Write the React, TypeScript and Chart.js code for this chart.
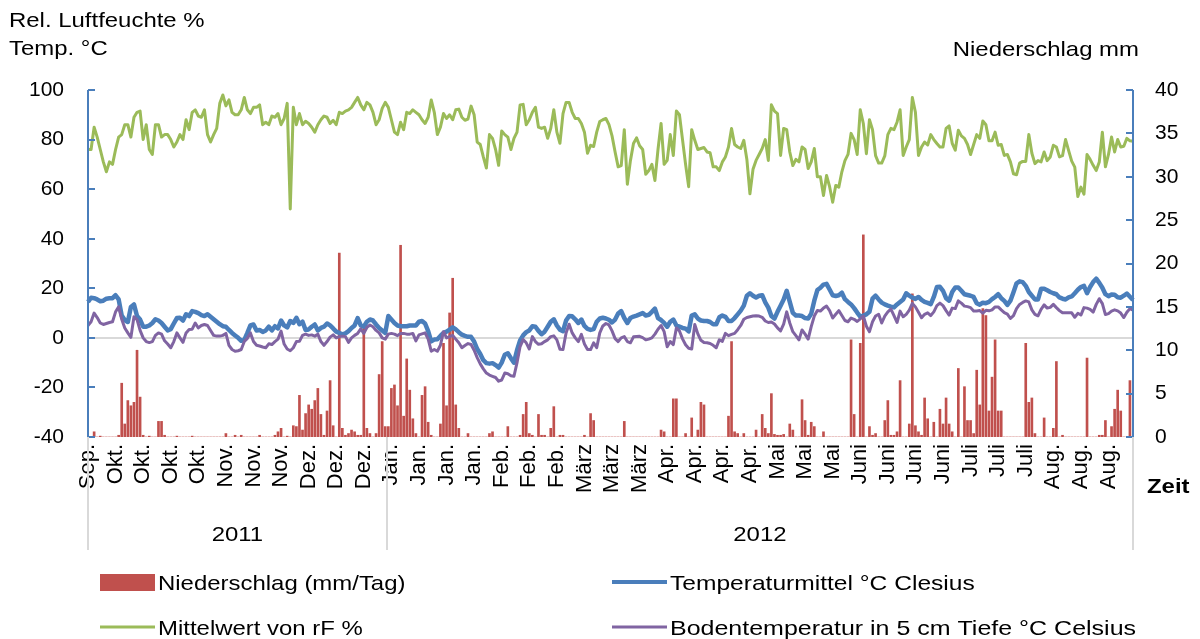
import React, { useEffect, useRef } from 'react';
import { Chart, registerables } from 'chart.js';

Chart.register(...registerables);

// Tick labels: one label every 9 days, starting 25 Sep 2011
const tickMonths = [
  'Sep.', 'Okt.', 'Okt.', 'Okt.', 'Okt.', 'Nov.', 'Nov.', 'Nov.', 'Dez.', 'Dez.', 'Dez.',
  'Jan.', 'Jan.', 'Jan.', 'Jan.', 'Feb.', 'Feb.', 'Feb.', 'März', 'März', 'März',
  'Apr.', 'Apr.', 'Apr.', 'Apr.', 'Mai', 'Mai', 'Mai', 'Juni', 'Juni', 'Juni', 'Juni',
  'Juli', 'Juli', 'Juli', 'Aug.', 'Aug.', 'Aug.',
];
const tickEvery = 9;

// Year groups (index of the first day of each year)
const yearLabels = ['2011', '2012'];
const yearStarts = [0, 98];

// Mittelwert von rF %
const rF = [
  76, 76, 85, 81, 76, 71, 67, 71, 70, 76,
  81, 82, 86, 86, 81, 89, 91, 91.5, 80, 86,
  76, 74, 86, 86, 81, 82, 82, 80, 77, 79,
  82, 80, 88, 84, 91, 92, 89.5, 89, 92, 82,
  79, 82, 84.5, 94.6, 98, 93.6, 96, 91, 90, 90,
  92, 97, 92, 90.5, 93, 93, 94, 86, 87, 86,
  89.5, 89, 90.5, 86, 88.5, 94.6, 52, 93, 86, 90.5,
  86, 87.4, 86.5, 85, 83, 86, 88, 89.5, 89, 86.5,
  87.8, 86, 91, 90.5, 91.5, 92, 93, 95, 97, 94,
  92, 95, 94, 91, 86, 88, 92.6, 95, 93, 88,
  83, 82, 87, 84, 91, 90.5, 92, 91, 90, 88,
  86.5, 89, 96, 91, 82, 85, 90.5, 88.5, 90, 88,
  92, 92.3, 89, 87.8, 88.3, 93.5, 90, 79, 78, 73,
  68.5, 82, 80.5, 76, 69.6, 83.5, 82, 81, 76, 80.5,
  83, 94, 94.2, 86, 88, 91, 93, 85, 84.5, 85,
  80.5, 84.5, 92, 83, 78.5, 90.5, 95, 95, 91, 88.5,
  88.5, 86.5, 83, 74.5, 77.7, 77.2, 83, 87.3, 88, 88.5,
  86, 81.5, 75, 69, 69.5, 84, 62, 71.5, 78.4, 80.7,
  77.5, 76, 66, 67.5, 70, 63.5, 76, 86.5, 70, 71.6,
  82, 73.6, 91.5, 90, 80, 70, 61, 84, 79.7, 76,
  76.4, 76.8, 75, 74.7, 69, 69, 67.5, 71, 73, 77,
  84.5, 78, 77, 76.4, 79.7, 72, 58.1, 68, 71.6, 74,
  76.4, 80, 71.6, 94, 91.5, 90.5, 73.6, 84.5, 84, 75,
  69.5, 72, 71, 77, 76, 68.3, 71, 76.4, 65, 65,
  57.4, 65.5, 61, 54.7, 61.5, 60.8, 67, 71.5, 74, 82.5,
  80, 74, 92, 86.5, 74.3, 88, 84, 73.5, 70.5, 70.5,
  73.4, 82, 84.5, 84, 87, 92, 73.6, 77, 80, 97,
  91, 73.6, 77, 79, 77.8, 82, 80, 78.4, 77, 77,
  84.5, 85.5, 78.5, 75.7, 83.8, 81.5, 80.5, 78, 74, 78,
  82, 80.5, 87.5, 86, 79.5, 79.5, 83, 77.7, 78, 73.6,
  74, 71, 66.2, 65.8, 70.5, 71.2, 71.2, 82, 74.5, 70.3,
  71.5, 71, 75, 71.5, 73, 77.7, 77, 73, 73.5, 80,
  75.5, 71.3, 68.9, 57, 60.8, 58, 74, 72, 69.6, 67.5,
  71, 83, 69, 74, 81, 75, 80, 77, 77.3, 80.5, 79.5, 79.3,
];

// Temperaturmittel °C
const tempMean = [
  14.5, 16.2, 16, 15.5, 14.8, 15, 15.8, 16, 16, 17.2,
  15.5, 9, 7.2, 6.4, 12.5, 13.5, 8.8, 7.4, 4.5, 4.5,
  5, 6, 7.5, 7, 6, 4.5, 3, 3.5, 5.8, 8,
  8.1, 7, 9.5, 8.8, 10.8, 10.5, 10, 9.2, 8.8, 9.5,
  8.5, 7.5, 6.5, 5.5, 4.7, 4.5, 3.2, 2, 1, 0,
  -1.2, -0.8, 2, 5, 5.4, 3, 3.2, 2.4, 3, 4.5,
  3, 4.7, 3.8, 7, 5, 4.2, 6.8, 6, 8.1, 5.5,
  6.5, 3.2, 3.4, 4.5, 5.4, 3, 4, 4.5, 5.8, 5,
  3.8, 2.5, 2, 1.4, 1.8, 2.7, 4, 5, 8, 5,
  4.5, 6.5, 7.4, 7, 5.4, 4, 3, 2, 8.8, 7.4,
  6, 5, 4.7, 4.7, 4.7, 5, 5, 5, 6.5, 6.8,
  5.8, 2.7, -1.4, -0.7, -0.6, 0.8, 2, 2.5, 3.3, 4.3,
  3.4, 2.3, 1.3, 0.8, 0.4, 0.4, -1.5, -4.5, -6.5, -9,
  -10.2, -10.4, -10.2, -11, -12, -10, -6.8, -6.2, -8.2, -10,
  -5, -1, 1, 2.3, 3, 4.7, 4.5, 2.8, 1.5, 2.5,
  4.5, 6.5, 7.5, 5, 3.3, 2.7, 7, 8.8, 8.7, 7.5,
  6, 7.4, 4.8, 3.6, 3.2, 3.5, 6.5, 7.8, 8.1, 7.8,
  7.3, 6.2, 7.4, 9.8, 10.8, 8, 6, 8, 8.6, 9,
  9.5, 10, 9, 9.3, 10.5, 11.8, 8, 7.2, 6, 4.5,
  6.5, 7.4, 5, 4.5, 4, 3.7, 2.6, 9, 9.5, 7.8,
  7, 6.8, 6.8, 6.4, 5.5, 5.5, 8.3, 9, 8.5, 6.8,
  6.8, 8, 9.5, 11, 13, 17, 18, 17, 16.3, 17,
  17.2, 14.3, 12.2, 8.8, 7.8, 10.5, 13, 15.5, 19, 14.5,
  10.1, 9, 9, 8.8, 8, 7.8, 9.7, 15, 19.3, 20.2,
  21.5, 21.8, 19.5, 17.2, 16.9, 17.2, 18.2, 15.6, 14.5, 13.5,
  12, 10.2, 8.6, 9, 9.5, 10.5, 15.8, 17, 15.5, 14.2,
  13.5, 13, 12.6, 12.3, 13.5, 14.5, 15.5, 18, 17, 16.2,
  15.7, 16.5, 15.3, 14.5, 14.1, 13.6, 16.5, 20.5, 20.6, 19,
  16, 15, 18.5, 20.3, 20.3, 19, 17.6, 17.3, 17, 16.5,
  14, 13.4, 14.2, 14, 14.5, 15.6, 16.5, 17.6, 16, 14.9,
  13.3, 15, 18.4, 22, 22.8, 22.5, 21, 18.5, 17, 15.5,
  15.5, 19.8, 19.8, 19.2, 18.5, 18, 17.6, 16.3, 15.8, 15.5,
  16.3, 16.7, 18, 19.4, 20.5, 21, 18, 20.5, 22.5, 23.9,
  22.2, 20.2, 17.6, 16.8, 17.5, 17.4, 16.4, 16.2, 17, 17.9, 16.6, 15.3,
];

// Bodentemperatur in 5 cm Tiefe °C
const soilTemp = [
  5, 6.5, 10, 8.2, 6, 5.4, 5.8, 6.2, 6.5, 10.5,
  12.5, 7.5, 4, 2, 0.2, 8.5, 7.4, 3, 0, -1.5,
  -1.9, -1.5, 1, 2, 1.5, -1.2, -2.5, -4, -1.5, 2,
  0, -1.8, 2, 3.4, 3.5, 6, 4, 5, 5.4, 5,
  3, 1, 0.7, 0.7, 1, 1.8, -3, -4.7, -5.4, -5.2,
  -4.7, -1.5, -0.2, 2, -1.5, -3, -3.3, -3.7, -4, -2.4,
  -2.7, -1.5, -0.5, 2.7, -2.5, -4.5, -5.2, -4, -1.5, -1.4,
  1, 1.5, 1, 1.2, 0.7, 1.5, -1.5, -3, -1.5, 0.3,
  1.2, 0, 0.5, 0.7, 0.5, -1.8, 0, 1, 1.8, 3.6,
  1.8, 4.2, 5.2, 4.5, 3, 2, 0, -0.5, 1.5, 1.8,
  1.5, 0.9, 1.8, 1.8, 1.5, 1.5, 1.8, -1.2, 1.2, 1.6,
  2, -0.5, -5.4, -4.7, -5.4, -3, 2.5, 0, 0.5, 1,
  -0.5, -2, -4, -3.1, -2.3, -2.7, -5, -8, -10.5, -12.5,
  -14.2, -15, -15.5, -16, -17.5, -17, -14.2, -14.5, -15.3, -15.5,
  -10, -3.5, -0.7, -2, -4.5, 0.5, -1.5, -2.6, -2.4, -1.5,
  -0.8, 0.5, 0.8, -0.8, -4.6, -4.7, 2, 5.5, 2, 0,
  -1.5, 1.4, -2.5, -4.7, -4.7, -2, -4, 2, 4.8, 5.8,
  5.2, 2.8, -0.3, -1.5, 0, 0.5, -1.5, -2, 0.4, 0.5,
  0.6, 0.1, -0.8, -0.5, 0, 1.5, 3.5, 5, 2.5, -3.6,
  -1.5, -2.7, 4, 2.8, -0.4, -2.8, -4.2, -4.5, 5.4, 1.6,
  -1, -1.9, -2, -2.3, -3, -4, -0.8, -1.4, 1.8, 0.9,
  1.4, 1.8, 3.3, 5, 7.5, 8.2, 8.5, 8.8, 8.9, 8.8,
  8.3, 6.8, 6.2, 6.4, 5.6, 4, 2.8, 5.5, 10.5, 6,
  2.5, 0.9, -0.8, 3.2, 1.5, -0.5, 4.5, 8.8, 11, 10.8,
  12, 12.8, 11, 8, 9.5, 11, 9, 7, 6.5, 8,
  7.5, 6.6, 7.7, 8.8, 4.7, 2.5, 6.5, 8.8, 9.5, 6,
  8.8, 10.5, 11.6, 9, 6.2, 10.8, 8.5, 9.5, 11.2, 13.9,
  12.5, 10.3, 8.1, 9.5, 10.1, 9, 10.5, 13, 14, 13,
  11, 9.2, 12, 11.8, 14.9, 14, 12.8, 12.6, 12.2, 10.8,
  10.8, 11, 10, 11.1, 10.9, 11.3, 12.5, 12.5, 11.3, 10.2,
  9.6, 7.8, 9, 11.8, 13.5, 14.3, 14.9, 14.5, 11.3, 9.5,
  8.9, 11.5, 13.3, 12, 12.3, 13.5, 12.2, 11, 10.1, 10.1,
  10.1, 10.1, 8.3, 9.9, 9.2, 12.2, 12, 11.5, 10.4, 13.5,
  15.8, 13.8, 9.4, 9.8, 10.8, 11.3, 10.9, 10, 8.2, 10.3, 11.8, 11.2,
];

// Niederschlag mm/Tag
const precip = [
  0, 0, 0.6, 0, 0.1, 0, 0, 0, 0, 0,
  0.2, 6.2, 1.5, 4.2, 3.6, 4, 10, 4.6, 0.2, 0,
  0.1, 0, 0, 1.8, 1.8, 0.2, 0, 0, 0, 0.1,
  0, 0, 0, 0, 0.1, 0, 0, 0, 0, 0,
  0, 0, 0, 0, 0, 0.4, 0, 0, 0.2, 0,
  0.2, 0, 0, 0, 0, 0, 0.2, 0, 0, 0,
  0, 0.2, 0.6, 1, 0, 0.1, 0, 1.3, 1.2, 4.8,
  0.8, 2.7, 3.7, 3.2, 4.2, 5.6, 2.6, 0.2, 3, 6.5,
  1.3, 0, 21.2, 1, 0.2, 0.4, 0.8, 0.6, 0.2, 0.2,
  12.6, 1, 0.4, 0, 0.4, 7.2, 11, 1.2, 1.2, 5.6,
  6, 3.6, 22.1, 2.4, 9, 5.4, 2.1, 0.4, 0, 4.8,
  5.8, 1.7, 0.2, 0, 0, 1.5, 10.8, 3.6, 14.3, 18.3,
  3.7, 1, 0, 0, 0.4, 0, 0, 0, 0, 0,
  0, 0.4, 0.6, 0, 0, 0, 0, 1.2, 0, 0,
  0, 0.2, 2.6, 4, 0.4, 0.2, 0, 2.6, 0.2, 0.2,
  0, 1, 3.5, 0, 0.2, 0.2, 0, 0, 0, 0,
  0, 0, 0.2, 0, 2.7, 1.9, 0, 0, 0, 0,
  0, 0, 0, 0, 0, 1.8, 0, 0, 0, 0,
  0, 0, 0, 0, 0, 0, 0, 0.8, 0.6, 0,
  0, 4.4, 4.4, 0, 0, 0.4, 0, 2.2, 0, 0.8,
  4, 3.7, 0, 0, 0, 0, 0, 0, 0, 2.4,
  11, 0.6, 0.4, 0, 0.4, 0, 0, 0, 0.8, 0,
  2.6, 1, 0.4, 5, 0.3, 0.2, 0.2, 0.3, 0, 1.5,
  0.8, 0, 0, 4.3, 1.9, 0.2, 1.7, 1.2, 0, 0,
  0.6, 0, 0, 0, 0, 0, 0, 0, 0, 11.2,
  2.6, 0, 10.8, 23.3, 0, 1.2, 0.2, 0.4, 0, 0,
  1.9, 4.2, 0.2, 0.2, 0.6, 6.5, 0, 0, 1.5, 16.5,
  1.3, 0.6, 0.2, 4.5, 2.1, 0, 1.7, 0, 3.2, 1.5,
  4.5, 1.5, 0.6, 0, 7.9, 0, 5.8, 1.9, 1.9, 0.4,
  7.7, 3.7, 14.8, 14, 3, 6.9, 11.2, 3, 3, 0,
  0, 0, 0, 0, 0, 0, 10.8, 4, 4.5, 0.4,
  0, 0, 2.2, 0, 0, 1, 8.7, 0, 0.2, 0,
  0, 0, 0, 0, 0, 0, 9.1, 0, 0, 0,
  0.2, 0.2, 1.9, 0, 1.2, 3.2, 5.4, 3, 0, 0, 6.5, 0,
];

const seriesNames = [
  'Niederschlag (mm/Tag)',
  'Temperaturmittel °C Clesius',
  'Mittelwert von rF %',
  'Bodentemperatur in 5 cm Tiefe °C Celsius',
];

const RED = '#C0504D';
const BLUE = '#4A7EBB';
const GREEN = '#9BBB59';
const PURPLE = '#8064A2';
const AXIS = '#4A7EBB';
const SEP = '#D9D9D9';
const FONT = "'Liberation Sans', Arial, Helvetica, sans-serif";
const SX = 1.14;

const dayLabels = precip.map((_, i) => (i % tickEvery === 0 ? tickMonths[i / tickEvery] || '' : ''));

function text(ctx: CanvasRenderingContext2D, s: string, x: number, y: number, align: CanvasTextAlign, size: number, bold = false, sx = SX) {
  ctx.save();
  ctx.font = `${bold ? 'bold ' : ''}${size}px ${FONT}`;
  ctx.fillStyle = '#000';
  ctx.textBaseline = 'alphabetic';
  ctx.translate(x, y);
  ctx.scale(sx, 1);
  ctx.textAlign = align;
  ctx.fillText(s, 0, 0);
  ctx.restore();
}

const overlay = {
  id: 'overlay',
  afterDraw(chart: any) {
    const { ctx, chartArea: ca, scales } = chart;
    const xs = scales.x;
    const yl = scales.y;
    const yr = scales.y1;
    ctx.save();

    // left axis line + inward ticks
    ctx.strokeStyle = AXIS;
    ctx.lineWidth = 2;
    ctx.beginPath();
    ctx.moveTo(ca.left, ca.top);
    ctx.lineTo(ca.left, ca.bottom);
    yl.ticks.forEach((t: any) => {
      const py = Math.round(yl.getPixelForValue(t.value));
      ctx.moveTo(ca.left, py);
      ctx.lineTo(ca.left + 7, py);
    });
    ctx.stroke();

    // right axis line + inward ticks
    ctx.beginPath();
    ctx.moveTo(ca.right, ca.top);
    ctx.lineTo(ca.right, ca.bottom);
    yr.ticks.forEach((t: any) => {
      const py = Math.round(yr.getPixelForValue(t.value));
      ctx.moveTo(ca.right, py);
      ctx.lineTo(ca.right - 7, py);
    });
    ctx.stroke();

    // year separators and labels
    const last = precip.length - 1;
    const bounds = yearStarts.map((s) => Math.max(0, s - 0.5));
    bounds.push(last);
    ctx.strokeStyle = SEP;
    ctx.lineWidth = 2;
    ctx.beginPath();
    bounds.forEach((b) => {
      const px = Math.round(xs.getPixelForValue(b));
      ctx.moveTo(px, ca.bottom);
      ctx.lineTo(px, ca.bottom + 113);
    });
    ctx.stroke();
    yearLabels.forEach((lab, i) => {
      const a = xs.getPixelForValue(bounds[i]);
      const b = xs.getPixelForValue(bounds[i + 1]);
      text(ctx, lab, (a + b) / 2, ca.bottom + 104, 'center', 21);
    });

    // axis titles
    text(ctx, 'Rel. Luftfeuchte %', 9, 27, 'left', 21);
    text(ctx, 'Temp. °C', 9, 55, 'left', 21);
    text(ctx, 'Niederschlag mm', 1139, 56, 'right', 21);
    text(ctx, 'Zeit', ca.right + 14, 493, 'left', 21, true);

    // legend
    const colX = [100, 612];
    const rowY = [582, 627];
    ctx.fillStyle = RED;
    ctx.fillRect(colX[0], rowY[0] - 8, 55, 17);
    const lineSample = (x: number, y: number, c: string, w: number) => {
      ctx.strokeStyle = c;
      ctx.lineWidth = w;
      ctx.beginPath();
      ctx.moveTo(x, y);
      ctx.lineTo(x + 55, y);
      ctx.stroke();
    };
    lineSample(colX[1], rowY[0], BLUE, 4);
    lineSample(colX[0], rowY[1], GREEN, 3);
    lineSample(colX[1], rowY[1], PURPLE, 3);
    text(ctx, seriesNames[0], colX[0] + 58, rowY[0] + 8, 'left', 21);
    text(ctx, seriesNames[1], colX[1] + 58, rowY[0] + 8, 'left', 21, false, 1.17);
    text(ctx, seriesNames[2], colX[0] + 58, rowY[1] + 8, 'left', 21);
    text(ctx, seriesNames[3], colX[1] + 58, rowY[1] + 8, 'left', 21, false, 1.19);

    ctx.restore();
  },
};

export default function App() {
  const ref = useRef<HTMLCanvasElement>(null);
  useEffect(() => {
    const canvas = ref.current;
    if (!canvas) return;
    const tickFont = { family: FONT, size: 21 };
    const chart = new Chart(canvas, {
      type: 'bar',
      data: {
        labels: dayLabels,
        datasets: [
          {
            type: 'line',
            label: seriesNames[2],
            data: rF,
            borderColor: GREEN,
            borderWidth: 3,
            pointRadius: 0,
            tension: 0,
            yAxisID: 'y',
            order: 1,
            borderJoinStyle: 'round',
          },
          {
            type: 'line',
            label: seriesNames[1],
            data: tempMean,
            borderColor: BLUE,
            borderWidth: 4.5,
            pointRadius: 0,
            tension: 0,
            yAxisID: 'y',
            order: 3,
            borderJoinStyle: 'round',
          },
          {
            type: 'line',
            label: seriesNames[3],
            data: soilTemp,
            borderColor: PURPLE,
            borderWidth: 3,
            pointRadius: 0,
            tension: 0,
            yAxisID: 'y',
            order: 2,
            borderJoinStyle: 'round',
          },
          {
            type: 'bar',
            label: seriesNames[0],
            data: precip,
            backgroundColor: RED,
            barThickness: 2,
            yAxisID: 'y1',
            order: 10,
          },
        ],
      } as any,
      options: {
        responsive: false,
        animation: false,
        devicePixelRatio: 1,
        layout: { padding: { top: 90, left: 0, right: 0, bottom: 0 } },
        plugins: { legend: { display: false }, tooltip: { enabled: false } },
        scales: {
          x: {
            type: 'category',
            offset: false,
            grid: { display: false, drawTicks: false },
            border: { display: false },
            ticks: {
              autoSkip: false,
              maxRotation: 90,
              minRotation: 90,
              padding: 7,
              color: '#000',
              font: { family: FONT, size: 22 },
            },
            afterFit: (s: any) => {
              s.height = 202;
            },
          },
          y: {
            position: 'left',
            min: -40,
            max: 100,
            ticks: { stepSize: 20, padding: 24, color: '#000', font: tickFont },
            grid: {
              drawTicks: false,
              lineWidth: 2,
              color: (c: any) => (c.tick && c.tick.value === 0 ? SEP : 'rgba(0,0,0,0)'),
            },
            border: { display: false },
            afterFit: (s: any) => {
              s.width = 88;
            },
          },
          y1: {
            position: 'right',
            min: 0,
            max: 40,
            ticks: { stepSize: 5, padding: 22, color: '#000', font: tickFont },
            grid: { display: false, drawTicks: false },
            border: { display: false },
            afterFit: (s: any) => {
              s.width = 67;
            },
          },
        },
      } as any,
      plugins: [overlay],
    });
    return () => chart.destroy();
  }, []);
  return (
    <div style={{ position: 'absolute', left: 0, top: 0, width: 1200, height: 639, background: '#fff' }}>
      <canvas ref={ref} width={1200} height={639} style={{ display: 'block' }} />
    </div>
  );
}
